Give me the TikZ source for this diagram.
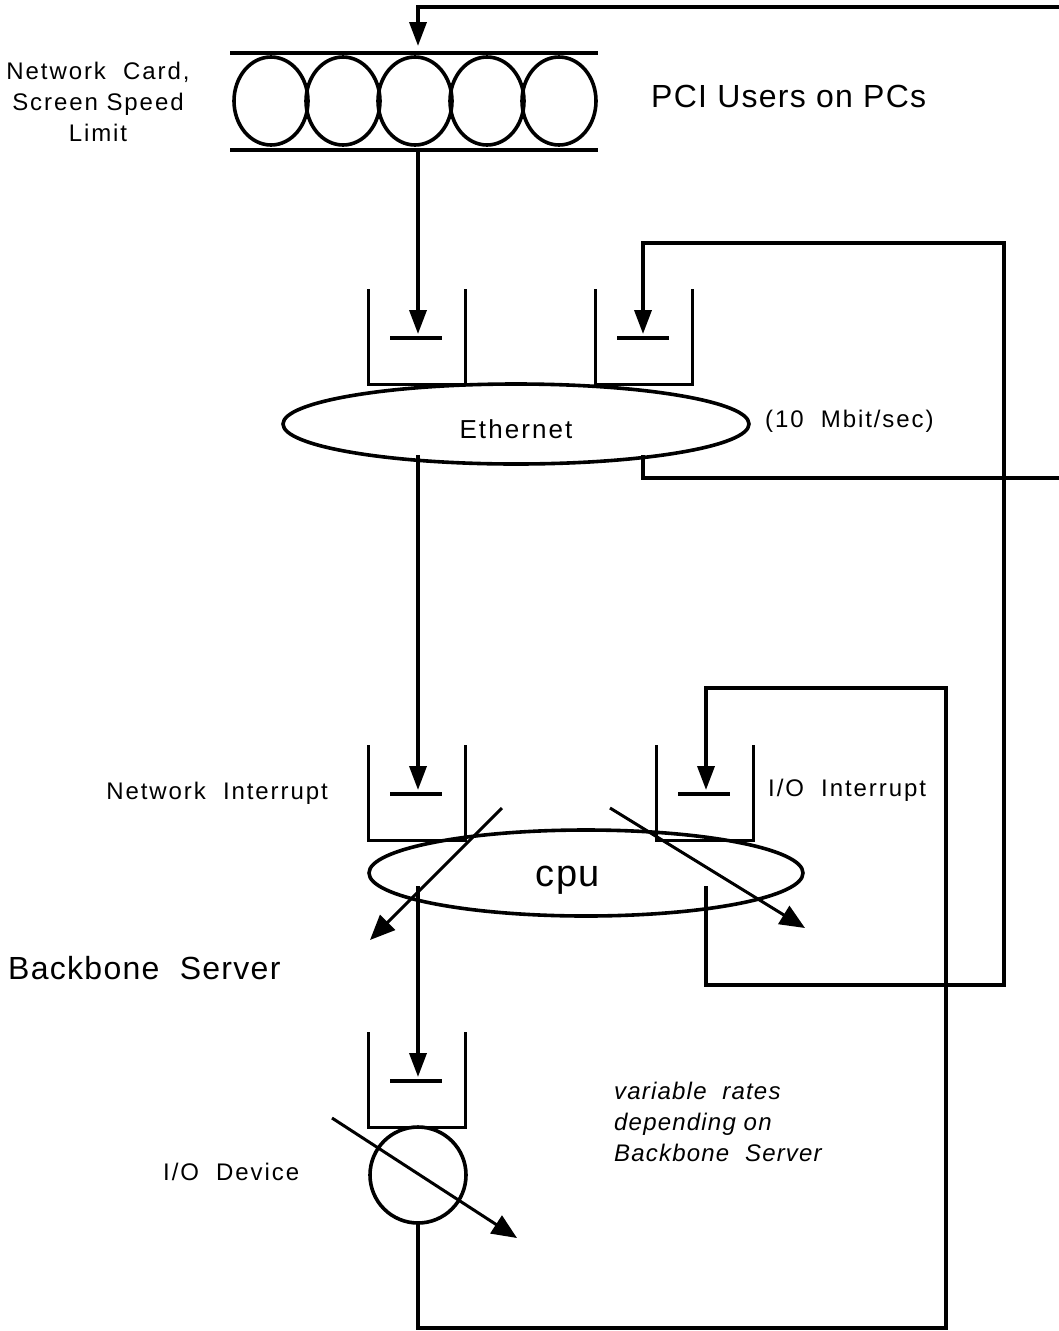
\documentclass[tikz,border=0pt]{standalone}
\usepackage{fontspec}
\setmainfont{Liberation Sans}
\newfontfamily\labelfont[LetterSpace=8]{Liberation Sans}
\newfontfamily\notefont[LetterSpace=5]{Liberation Sans}
\newfontfamily\titlefont[LetterSpace=4]{Liberation Sans}
\usetikzlibrary{arrows.meta,shapes.geometric}

\tikzset{
  wire/.style={line width=3.6pt},
  wall/.style={line width=3pt},
  flow/.style={wire,-{Triangle[length=24pt,width=17pt]}},
  rate/.style={line width=3pt,-{Triangle[length=25pt,width=21pt]}},
  small/.style={font=\labelfont\fontsize{24}{31}\selectfont,inner sep=0pt},
  large/.style={font=\titlefont\fontsize{32}{36}\selectfont,inner sep=0pt},
  station/.style={draw,line width=3.6pt,inner sep=0pt},
  % queue: walls, floor and the stop bar; origin at the middle of the floor
  waitline/.pic={
    \draw[wall] (-48.5,-95) -- (-48.5,0) -- (48.5,0) -- (48.5,-95);
    \draw[wire] (-27,-46) -- (25,-46);
  }
}

\begin{document}
\begin{tikzpicture}[x=1pt,y=-1pt]
\useasboundingbox (0,0) rectangle (1059,1331);

% ---- PCI users (infinite server of terminals) ----
\draw[wire] (230,53) -- (598,53);
\draw[wire] (230,150) -- (598,150);
\foreach \i/\x in {1/271,2/343,3/415,4/487,5/559}
  \node[station,ellipse,minimum width=74pt,minimum height=88pt] (u\i) at (\x,101) {};
\node[small,align=center] (cardlbl) at (98,102) {Network~~Card,\\Screen Speed\\Limit};
\node[large,anchor=west] (pcilbl) at (651,96) {PCI~Users~on~PCs};

% ---- Ethernet ----
\pic (qeL) at (417,384) {waitline};
\pic (qeR) at (644,384) {waitline};
\node[station,ellipse,minimum width=466pt,minimum height=80pt] (eth) at (516,424) {};
\node[small,font=\labelfont\fontsize{26}{30}\selectfont] (ethlbl) at (516,429) {Ethernet};
\node[small,anchor=west] (ratelbl) at (765,421) {(10~~Mbit/sec)};

% ---- CPU ----
\pic (qcL) at (417,840) {waitline};
\pic (qcR) at (705,840) {waitline};
\node[station,ellipse,minimum width=434pt,minimum height=86pt] (cpu) at (586,873) {};
\node[font=\titlefont\fontsize{38}{40}\selectfont,inner sep=0pt] (cpulbl) at (568,880) {cpu};
\node[small,anchor=east] (netintlbl) at (328,793) {Network~~Interrupt};
\node[small,anchor=west] (iointlbl) at (768,790) {I/O~~Interrupt};
\node[large,anchor=west] (bblbl) at (8,968) {Backbone~~Server};

% ---- I/O device ----
\pic (qio) at (417,1127) {waitline};
\node[station,circle,minimum size=96pt] (io) at (418,1175) {};
\node[small,anchor=west] (iolbl) at (163,1172) {I/O~~Device};
\node[small,anchor=west,align=left,font=\notefont\fontsize{24}{31}\selectfont\itshape] (varlbl) at (614,1122)
  {variable~~rates\\depending~on\\Backbone~~Server};

% ---- connection points ----
\coordinate (topR) at (1059,7);
\coordinate (topL) at (418,7);
\coordinate (usersIn) at (418,46);
\coordinate (usersOut) at (418,150);
\coordinate (ethInL) at (418,334);
\coordinate (ethInR) at (643,334);
\coordinate (ethOutL) at (418,455);
\coordinate (ethOutR) at (643,455);
\coordinate (ethExit) at (1059,478);
\coordinate (cpuInL) at (418,790);
\coordinate (cpuInR) at (706,790);
\coordinate (cpuOutL) at (418,886);
\coordinate (cpuOutR) at (706,886);
\coordinate (ioIn) at (418,1077);
\coordinate (ioOut) at (418,1222);
\coordinate (netLoop) at (1004,243);
\coordinate (ioLoop) at (946,688);
\coordinate (ioBottom) at (946,1328);
\coordinate (cpuLoop) at (1004,985);

% ---- connectors ----
\draw[flow] (topR) -- (topL) -- (usersIn);
\draw[flow] (usersOut) -- (ethInL);
\draw[flow] (ethOutL) -- (cpuInL);
\draw[wire] (ethOutR) |- (ethExit);
\draw[flow] (cpuOutR) |- (cpuLoop) -- (netLoop) -| (ethInR);
\draw[flow] (cpuOutL) -- (ioIn);
\draw[flow] (ioOut) |- (ioBottom) -- (ioLoop) -| (cpuInR);

% ---- variable service rates ----
\coordinate (rA0) at (502,808); \coordinate (rA1) at (370,940);
\coordinate (rB0) at (610,808); \coordinate (rB1) at (805,928);
\coordinate (rC0) at (332,1118); \coordinate (rC1) at (517,1238);
\draw[rate] (rA0) -- (rA1);
\draw[rate] (rB0) -- (rB1);
\draw[rate] (rC0) -- (rC1);
\end{tikzpicture}
\end{document}
